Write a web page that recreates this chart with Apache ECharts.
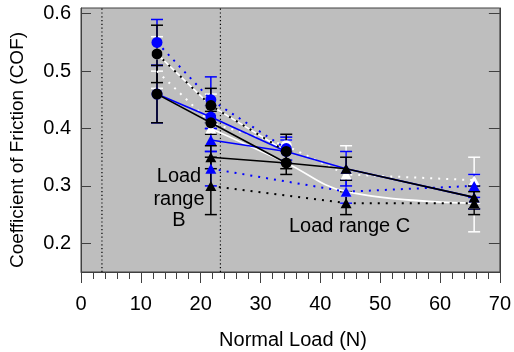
<!DOCTYPE html>
<html><head><meta charset="utf-8">
<script src="https://cdn.jsdelivr.net/npm/echarts@6/dist/echarts.min.js"></script>
<style>html,body{margin:0;padding:0;background:#fff}#c{width:514px;height:352px}</style>
</head><body><div id="c"></div>
<script>
// ---- data ----
const loads = [12.7, 21.7, 34.3, 44.3, 65.7];
const rangeBounds = [3.5, 23.3];
const yTickValues = [0.2, 0.3, 0.4, 0.5, 0.6];
const xMin = 0, xMax = 70, xStep = 10;
const yMin = 0.15, yMax = 0.61;

// load range B style points (circles)
const whiteSolidB = [0.53, 0.44, 0.36, null, null];
const whiteSolidBErr = [0.03, 0.02, 0.02, null, null];
const blueSolidB = [0.46, 0.42, 0.36, null, null];
const blueSolidBErr = [0.05, 0.02, 0.02, null, null];
const blackSolidB = [0.46, 0.41, 0.34, null, null];
const blackSolidBErr = [0.05, 0.02, 0.02, null, null];
const blueDottedB = [0.55, 0.45, 0.365, null, null];
const blueDottedBErr = [0.04, 0.04, 0.02, null, null];
const blackDottedB = [0.53, 0.44, 0.36, null, null];
const blackDottedBErr = [0.05, 0.03, 0.03, null, null];
const whiteDotted = [0.50, 0.41, 0.37, 0.32, 0.31];
const whiteDottedErr = [0.03, 0.02, 0.01, 0.05, 0.04];

// load range C style points (triangles)
const whiteSolidC = [null, 0.40, 0.34, 0.29, 0.27];
const whiteSolidCErr = [null, 0.01, null, 0.02, 0.05];
const blueSolidC = [null, 0.38, 0.36, 0.33, 0.28];
const blueSolidCErr = [null, 0.02, null, 0.03, 0.02];
const blackSolidC = [null, 0.35, 0.34, 0.33, 0.28];
const blackSolidCErr = [null, 0.02, null, 0.02, 0.02];
const blueDottedC = [null, 0.33, null, 0.29, 0.30];
const blueDottedCErr = [null, 0.03, null, 0.02, 0.02];
const blackDottedC = [null, 0.30, null, 0.27, 0.27];
const blackDottedCErr = [null, 0.05, null, 0.02, 0.02];

// ---- styles ----
const WHITE = '#ffffff', BLUE = '#0000ff', BLACK = '#000000';
const SOLID = 'solid', DOT = [2, 6];
const specs = [
  {v: whiteSolidB, e: whiteSolidBErr, c: WHITE, t: SOLID, s: 'ccc', z: 0},
  {v: whiteSolidC, e: whiteSolidCErr, c: WHITE, t: SOLID, s: '-tntt', z: 0, smooth: 0.4},
  {v: whiteDotted, e: whiteDottedErr, c: WHITE, t: DOT, s: 'ncctt', z: 0},
  {v: blueSolidB, e: blueSolidBErr, c: BLUE, t: SOLID, s: 'ccc', z: 1},
  {v: blueSolidC, e: blueSolidCErr, c: BLUE, t: SOLID, s: '-tntt', z: 1},
  {v: blueDottedB, e: blueDottedBErr, c: BLUE, t: DOT, s: 'ccc', z: 1},
  {v: blueDottedC, e: blueDottedCErr, c: BLUE, t: DOT, s: '-t-tt', z: 1},
  {v: blackSolidB, e: blackSolidBErr, c: BLACK, t: SOLID, s: 'ccc', z: 2},
  {v: blackSolidC, e: blackSolidCErr, c: BLACK, t: SOLID, s: '-tntt', z: 2},
  {v: blackDottedB, e: blackDottedBErr, c: BLACK, t: DOT, s: 'ccc', z: 2},
  {v: blackDottedC, e: blackDottedCErr, c: BLACK, t: DOT, s: '-t-tt', z: 2}
];
const FONT = '"Liberation Sans", Arial, sans-serif';
const AXC = '#404040';

const series = [];
// vertical range boundaries
series.push({
  type: 'custom', z: 1, silent: true,
  data: rangeBounds.map(x => [x]),
  encode: {x: 0},
  renderItem: (p, api) => {
    const a = api.coord([api.value(0), yMin]), b = api.coord([api.value(0), yMax]);
    return {type: 'line', shape: {x1: a[0], y1: a[1], x2: b[0], y2: b[1]},
      style: {stroke: '#000', lineWidth: 1.2, lineDash: [1.2, 2.6]}};
  }
});
// error bars
specs.forEach(sp => {
  const data = [];
  loads.forEach((x, i) => {
    if (sp.v[i] != null && sp.e[i] != null) data.push([x, sp.v[i] - sp.e[i], sp.v[i] + sp.e[i]]);
  });
  series.push({
    type: 'custom', z: 2 + sp.z, silent: true, data, encode: {x: 0, y: [1, 2]},
    renderItem: (p, api) => {
      const x = api.value(0);
      const lo = api.coord([x, api.value(1)]), hi = api.coord([x, api.value(2)]);
      const hw = 6, st = {stroke: sp.c, lineWidth: 1.5};
      return {type: 'group', children: [
        {type: 'line', shape: {x1: hi[0], y1: hi[1], x2: lo[0], y2: lo[1]}, style: st},
        {type: 'line', shape: {x1: hi[0] - hw, y1: hi[1], x2: hi[0] + hw, y2: hi[1]}, style: st},
        {type: 'line', shape: {x1: lo[0] - hw, y1: lo[1], x2: lo[0] + hw, y2: lo[1]}, style: st}
      ]};
    }
  });
});
// lines with markers
specs.forEach(sp => {
  const data = [];
  loads.forEach((x, i) => {
    if (sp.v[i] == null) return;
    const k = sp.s[i];
    const item = {value: [x, sp.v[i]]};
    if (k === 'c') { item.symbol = 'circle'; item.symbolSize = 11; }
    else if (k === 't') { item.symbol = 'triangle'; item.symbolSize = [11, 10]; }
    else { item.symbol = 'none'; }
    data.push(item);
  });
  series.push({
    type: 'line', z: 5 + sp.z, silent: true, data,
    smooth: sp.smooth || false,
    lineStyle: {color: sp.c, width: sp.t === SOLID ? 1.6 : 2, type: sp.t},
    itemStyle: {color: sp.c, borderWidth: 0},
    showSymbol: true, animation: false
  });
});

const chart = echarts.init(document.getElementById('c'), null, {renderer: 'canvas'});
chart.setOption({
  animation: false,
  backgroundColor: '#ffffff',
  grid: {left: 81, right: 9, top: 8, bottom: 80, show: true, backgroundColor: '#bebebe',
    borderColor: AXC, borderWidth: 1},
  xAxis: [{
    type: 'value', min: xMin, max: xMax, interval: xStep,
    axisLine: {show: true, lineStyle: {color: AXC, width: 1}},
    axisTick: {show: true, inside: false, length: 11, lineStyle: {color: AXC, width: 1}},
    minorTick: {show: true, splitNumber: 5, length: 7, lineStyle: {color: AXC, width: 1}},
    axisLabel: {color: '#000', fontSize: 20, fontFamily: FONT, margin: 22, showMaxLabel: true, showMinLabel: true},
    splitLine: {show: false}
  }],
  yAxis: [{
    type: 'value', min: yMin, max: yMax, position: 'left',
    axisLine: {show: true, lineStyle: {color: AXC, width: 1}},
    axisTick: {show: true, inside: true, length: 10, customValues: yTickValues, lineStyle: {color: AXC, width: 1}},
    axisLabel: {color: '#000', fontSize: 20, fontFamily: FONT, margin: 10, customValues: yTickValues,
      formatter: v => v.toFixed(1)},
    splitLine: {show: false}
  }, {
    type: 'value', min: yMin, max: yMax, position: 'right',
    axisLine: {show: true, lineStyle: {color: AXC, width: 1}},
    axisTick: {show: true, inside: true, length: 11, customValues: yTickValues, lineStyle: {color: AXC, width: 1}},
    axisLabel: {show: false},
    splitLine: {show: false}
  }],
  graphic: [
    {type: 'text', x: 18, y: 150, rotation: Math.PI / 2, z: 100,
      style: {text: 'Coefficient of Friction (COF)', font: '19px ' + FONT, fill: '#000', align: 'center', verticalAlign: 'middle'}},
    {type: 'text', x: 293, y: 340, z: 100,
      style: {text: 'Normal Load (N)', font: '20px ' + FONT, fill: '#000', align: 'center', verticalAlign: 'middle'}},
    {type: 'text', x: 179, y: 176.5, z: 100,
      style: {text: 'Load', font: '20px ' + FONT, fill: '#000', align: 'center', verticalAlign: 'middle'}},
    {type: 'text', x: 179, y: 199, z: 100,
      style: {text: 'range', font: '20px ' + FONT, fill: '#000', align: 'center', verticalAlign: 'middle'}},
    {type: 'text', x: 179, y: 220.5, z: 100,
      style: {text: 'B', font: '20px ' + FONT, fill: '#000', align: 'center', verticalAlign: 'middle'}},
    {type: 'text', x: 289, y: 226, z: 100,
      style: {text: 'Load range C', font: '20px ' + FONT, fill: '#000', align: 'left', verticalAlign: 'middle'}}
  ],
  series
});
</script>
</body></html>
